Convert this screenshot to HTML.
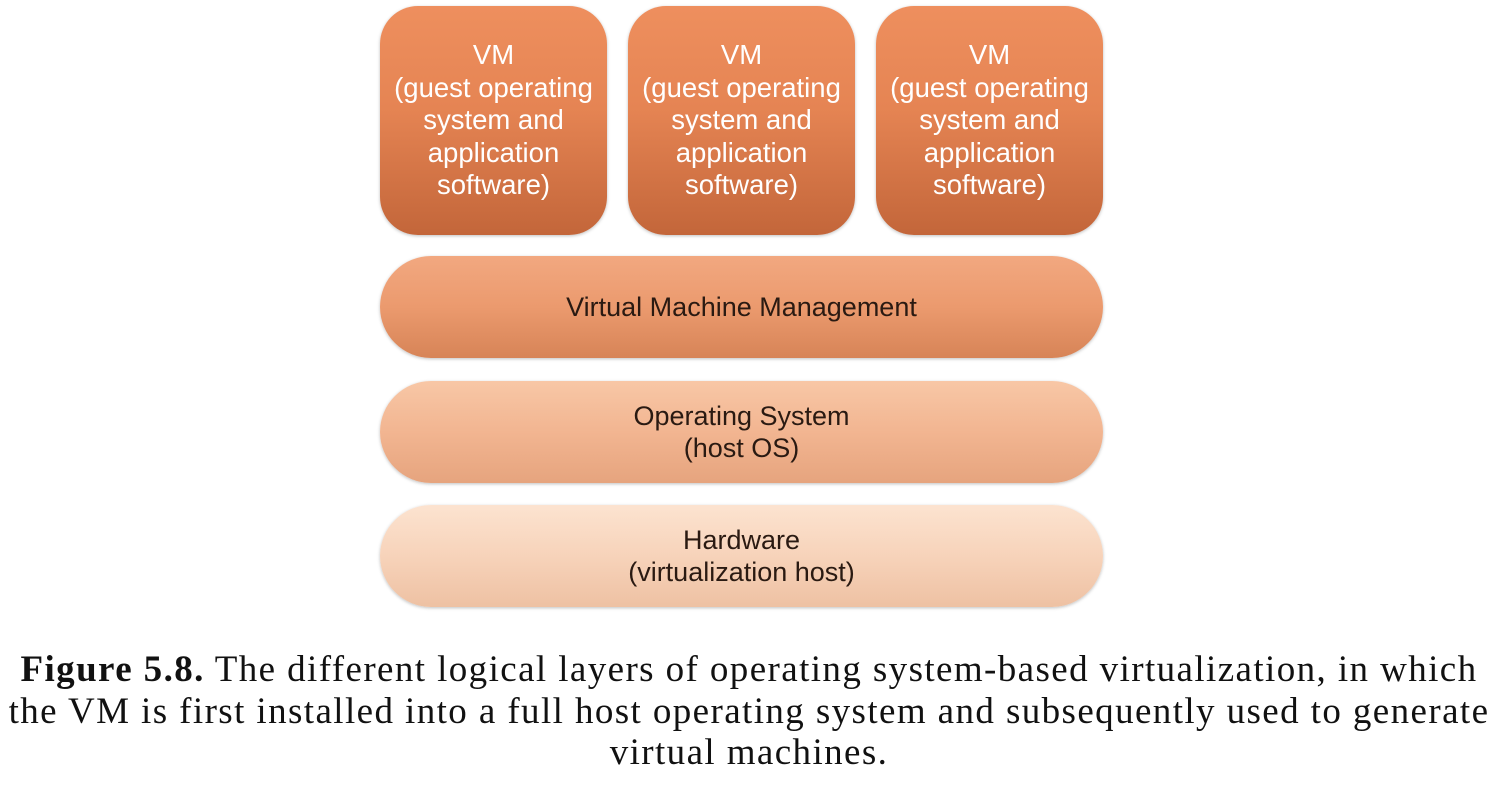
<!DOCTYPE html>
<html><head><style>
body{margin:0;width:1498px;height:803px;background:#fff;position:relative;overflow:hidden;font-family:"Liberation Sans",sans-serif}
.b{position:absolute;display:flex;align-items:center;justify-content:center;text-align:center;box-shadow:0 1px 3px rgba(0,0,0,.25)}
.vm{top:6px;width:227px;height:229px;border-radius:38px;background:linear-gradient(#ee8f5e,#e58453 45%,#c3663a);color:#fff;font-size:27.5px;line-height:32.5px}
.bar{left:380px;width:723px;height:102px;border-radius:51px;color:#2a1a12;font-size:27px;line-height:32px}
.cap{position:absolute;left:0;width:1498px;top:649px;text-align:center;font-family:"Liberation Serif",serif;font-size:37px;letter-spacing:1.4px;line-height:41.5px;color:#111;white-space:nowrap}
</style></head><body>
<div class="b vm" style="left:380px">VM<br>(guest operating<br>system and<br>application<br>software)</div>
<div class="b vm" style="left:628px">VM<br>(guest operating<br>system and<br>application<br>software)</div>
<div class="b vm" style="left:876px">VM<br>(guest operating<br>system and<br>application<br>software)</div>
<div class="b bar" style="top:256px;background:linear-gradient(#f2a880,#eb9a6e 50%,#d78457)">Virtual Machine Management</div>
<div class="b bar" style="top:381px;background:linear-gradient(#f8c7a6,#f2b591 50%,#e6a47e)">Operating System<br>(host OS)</div>
<div class="b bar" style="top:505px;background:linear-gradient(#fce3d0,#f7d3ba 50%,#eec1a3)">Hardware<br>(virtualization host)</div>
<div class="cap"><b>Figure 5.8.</b> The different logical layers of operating system-based virtualization, in which<br>the VM is first installed into a full host operating system and subsequently used to generate<br>virtual machines.</div>
</body></html>
